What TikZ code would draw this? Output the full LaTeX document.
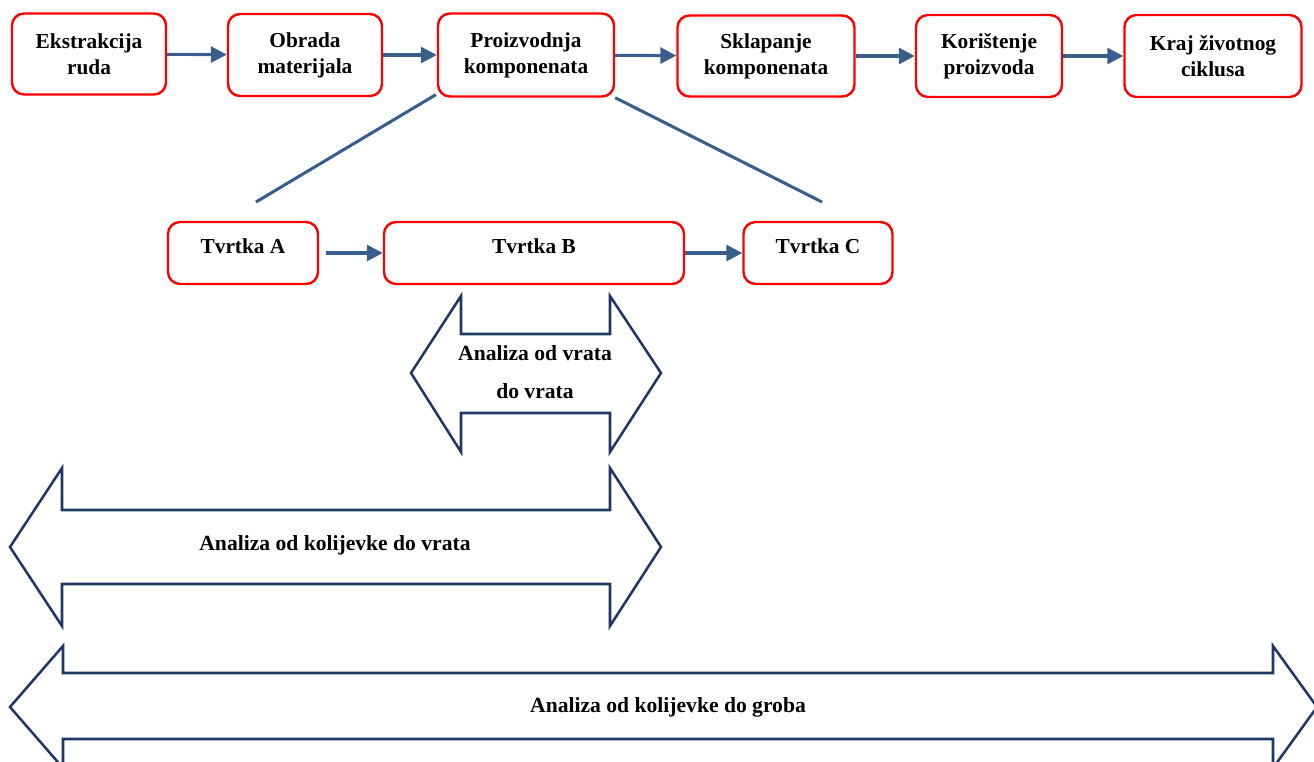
\documentclass[tikz,border=0pt]{standalone}
\usepackage{fontspec}
\setmainfont{Liberation Serif}
\usetikzlibrary{arrows.meta}
\definecolor{boxred}{RGB}{255,0,0}
\definecolor{flowblue}{RGB}{58,94,140}
\definecolor{navy}{RGB}{31,56,100}
\tikzset{
  stage/.style={draw=boxred,line width=1.8pt,rounded corners=9pt,align=center,
    font=\fontsize{16}{19.5}\selectfont\bfseries,inner sep=0pt},
  firm/.style={stage,text depth=10pt},
  flow/.style={draw=flowblue,line width=2.3pt,-{Triangle[length=12pt,width=12pt]}},
  link/.style={draw=flowblue,line width=2.3pt},
  span/.style={draw=navy,line width=1.9pt,fill=white,line join=miter},
  spantext/.style={align=center,font=\fontsize{16.2}{28}\selectfont\bfseries}
}
\begin{document}
\begin{tikzpicture}[x=0.75pt,y=-0.75pt]
\useasboundingbox (0,0) rectangle (1314,762);
\clip (0,0) rectangle (1314,762);
% life cycle stages
\node[stage,minimum width=154*0.75pt,minimum height=81*0.75pt] (ore) at (89,54) {Ekstrakcija\\ruda};
\node[stage,minimum width=154*0.75pt,minimum height=82*0.75pt] (mat) at (305,55) {Obrada\\materijala};
\node[stage,minimum width=176*0.75pt,minimum height=83*0.75pt] (prod) at (526,55) {Proizvodnja\\komponenata};
\node[stage,minimum width=177*0.75pt,minimum height=81*0.75pt] (assy) at (766,56) {Sklapanje\\komponenata};
\node[stage,minimum width=146*0.75pt,minimum height=82*0.75pt] (use) at (989,56) {Korištenje\\proizvoda};
\node[stage,minimum width=177*0.75pt,minimum height=82*0.75pt] (eol) at (1213,56) {Kraj životnog\\ciklusa};
\draw[flow] (ore) -- (mat);
\draw[flow] (mat) -- (prod);
\draw[flow] (prod) -- (assy);
\draw[flow] (assy) -- (use);
\draw[flow] (use) -- (eol);
% companies
\node[firm,minimum width=150*0.75pt,minimum height=62*0.75pt] (fa) at (243,253) {Tvrtka A};
\node[firm,minimum width=300*0.75pt,minimum height=62*0.75pt] (fb) at (534,253) {Tvrtka B};
\node[firm,minimum width=149*0.75pt,minimum height=62*0.75pt] (fc) at (818,253) {Tvrtka C};
\draw[flow,shorten <=5pt] (fa) -- (fb);
\draw[flow] (fb) -- (fc);
\coordinate (za) at (256,202);
\coordinate (zc) at (822,202);
\draw[link] (prod.south west) ++(-1,-3) -- (za);
\draw[link] (prod.south east) -- (zc);
% analysis scopes
\draw[span] (411,373) -- (461,296) -- (461,334) -- (610,334) -- (610,296) -- (661,373)
  -- (610,452) -- (610,413) -- (461,413) -- (461,452) -- cycle;
\node[spantext] (gate) at (535,372) {Analiza od vrata\\do vrata};
\draw[span] (10,547) -- (62,468) -- (62,510) -- (610,510) -- (610,468) -- (661,547)
  -- (610,626) -- (610,584) -- (62,584) -- (62,626) -- cycle;
\node[spantext] (cradlegate) at (335,545) {Analiza od kolijevke do vrata};
\draw[span] (10,707) -- (63,646) -- (63,673) -- (1273,673) -- (1273,646) -- (1317,707)
  -- (1273,768) -- (1273,739) -- (63,739) -- (63,768) -- cycle;
\node[spantext] (cradlegrave) at (668,707) {Analiza od kolijevke do groba};
\end{tikzpicture}
\end{document}
